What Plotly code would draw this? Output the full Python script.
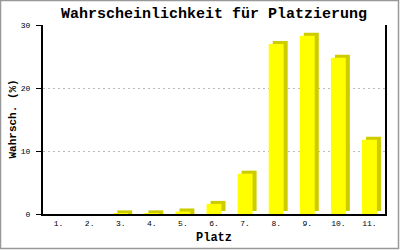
import plotly.graph_objects as go

categories = ["1.", "2.", "3.", "4.", "5.", "6.", "7.", "8.", "9.", "10.", "11."]
values = [0.0, 0.0, 0.1, 0.1, 0.4, 1.6, 6.4, 27.0, 28.3, 24.8, 11.8]
y_ticks = [0, 10, 20, 30]

FRONT = "#FFFF00"
SIDE = "#CCCC00"
DEPTH = 0.48  # 3D depth in value units (~3 px)

W, H = 400, 250
ML, MR, MT, MB = 43, 15, 25, 36
PW, PH = W - ML - MR, H - MT - MB

side_base = [DEPTH if v > DEPTH else 0 for v in values]
side_h = [(v + DEPTH - b) if v > 0 else 0 for v, b in zip(values, side_base)]

fig = go.Figure()
fig.add_trace(go.Bar(x=categories, y=side_h, base=side_base, width=0.48, offset=-0.11,
                     marker=dict(color=SIDE, line=dict(width=0)), hoverinfo="skip"))
fig.add_trace(go.Bar(x=categories, y=values, width=0.48, offset=-0.24,
                     marker=dict(color=FRONT, line=dict(width=0))))

mono = "Liberation Mono"
fig.update_layout(
    width=W, height=H, autosize=False,
    margin=dict(l=ML, r=MR, t=MT, b=MB, autoexpand=False),
    paper_bgcolor="white", plot_bgcolor="white",
    barmode="overlay", showlegend=False,
    title=dict(text="<b>Wahrscheinlichkeit für Platzierung</b>", x=0.5, xref="paper",
               xanchor="center", y=1 - 13 / H, yanchor="middle",
               font=dict(family=mono, size=15, color="black")),
    xaxis=dict(type="category", showline=True, linecolor="black", linewidth=2,
               ticks="", showgrid=False, zeroline=False, ticklabelstandoff=0,
               automargin=False,
               tickfont=dict(family=mono, size=8, color="black")),
    yaxis=dict(range=[0, 30], tickvals=y_ticks, showline=True, linecolor="black", linewidth=2,
               mirror=True, ticks="outside", ticklen=5, tickcolor="black", tickwidth=1,
               showgrid=True, gridcolor="#BBBBBB", griddash="2px,3px", gridwidth=1,
               zeroline=False, ticklabelstandoff=4, automargin=False,
               tickfont=dict(family=mono, size=8, color="black")),
)
fig.add_annotation(text="<b>Platz</b>", xref="paper", yref="paper", x=0.5, y=-(238 - (H - MB)) / PH,
                   xanchor="center", yanchor="middle", showarrow=False,
                   font=dict(family=mono, size=12, color="black"))
fig.add_annotation(text="<b>Wahrsch. (%)</b>", xref="paper", yref="paper", x=-(ML - 12) / PW, y=0.5,
                   xanchor="center", yanchor="middle", textangle=-90, showarrow=False,
                   font=dict(family=mono, size=11, color="black"))
fig.add_shape(type="rect", xref="paper", yref="paper",
              x0=-ML / PW + 0.5 / PW, x1=1 + MR / PW - 1.5 / PW,
              y0=-MB / PH + 1.5 / PH, y1=1 + MT / PH - 0.5 / PH,
              line=dict(color="#999999", width=1.5), layer="above")
fig.write_html("out.html")
